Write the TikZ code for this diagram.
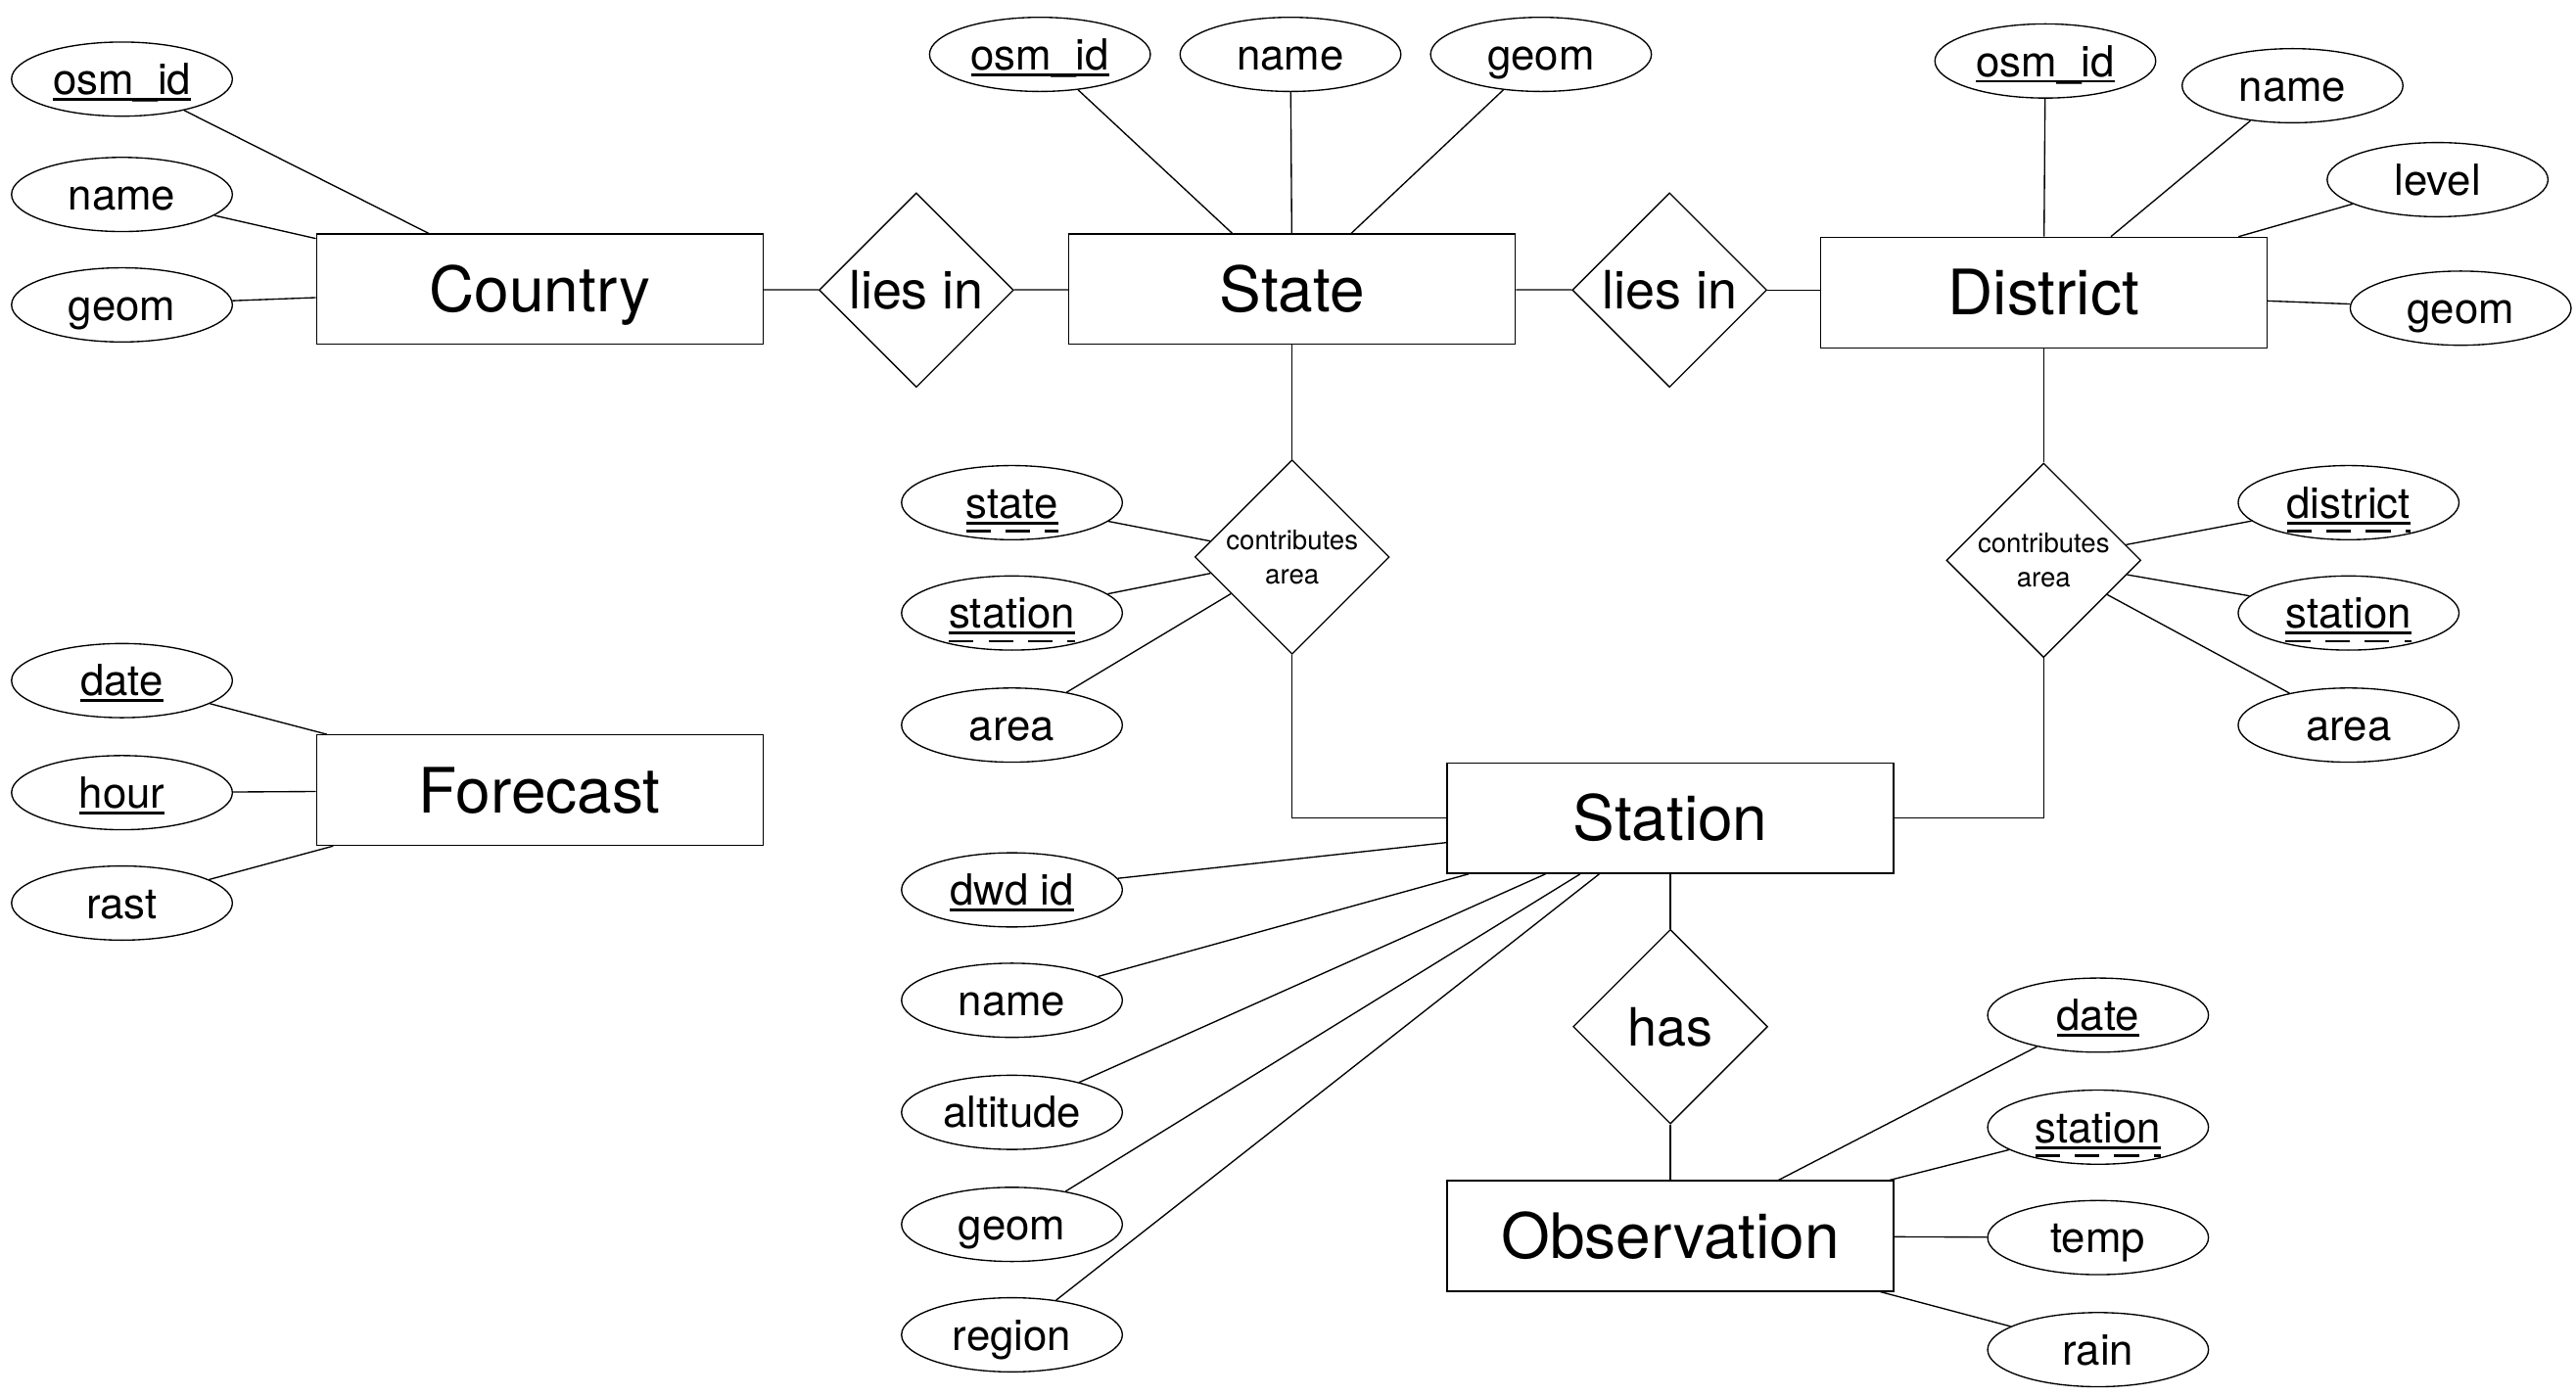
\documentclass[tikz,border=0pt]{standalone}
\usepackage{fontspec}
\setmainfont{TeX Gyre Heros}
\usetikzlibrary{shapes.geometric}
\newdimen\wkw
\newdimen\wkr
\newcommand\pk[1]{\setbox0\hbox{#1}\wkw=\wd0\rlap{\copy0}\smash{\rlap{\rule[-3.8pt]{\wkw}{1.7pt}}}\hspace*{\wkw}}
\newcommand\wkdashes{\hbox{\loop\ifdim\wkr>15pt \vrule width 15pt height 1.7pt depth 0pt\kern9pt\advance\wkr by -24pt\repeat\ifdim\wkr>0pt \vrule width\wkr height 1.7pt depth 0pt\fi}}
\newcommand\wk[1]{\setbox0\hbox{#1}\wkw=\wd0\wkr=\wd0\rlap{\copy0}\smash{\rlap{\rule[-3.8pt]{\wkw}{1.7pt}}}\smash{\rlap{\raisebox{-8.6pt}{\wkdashes}}}\hspace*{\wkw}}
\tikzset{
  entity/.style={draw, rectangle, minimum width=271pt, minimum height=67pt, inner sep=0pt,
    font=\fontsize{38}{44}\selectfont, text height=27.4pt, text depth=0pt},
  rel/.style={draw, diamond, minimum width=118pt, minimum height=118pt, inner sep=0pt,
    font=\fontsize{32}{38}\selectfont, text height=23pt, text depth=0pt},
  carel/.style={draw, diamond, minimum width=118pt, minimum height=118pt, inner sep=0pt,
    font=\fontsize{16.4}{20.8}\selectfont, align=center},
  attr/.style={draw, ellipse, minimum width=134pt, minimum height=45pt, inner sep=0pt,
    font=\fontsize{26}{30}\selectfont, text height=18.7pt, text depth=0pt},
  conn/.style={draw, line width=0.8pt},
}
\begin{document}
\begin{tikzpicture}[x=1pt, y=-1pt, line width=0.8pt]
\fill[white] (0,0) rectangle (1563,847);
\useasboundingbox (0,0) rectangle (1563,847);

% entities
\node[entity] (country) at (327.5,175.5) {Country};
\node[entity] (state) at (784,175.5) {State};
\node[entity] (district) at (1240,177.5) {District};
\node[entity] (forecast) at (327.5,479.5) {Forecast};
\node[entity] (station) at (1013.5,496.5) {Station};
\node[entity] (obs) at (1013.5,750) {Observation};

% relations
\node[rel] (lies1) at (556,176) {lies in};
\node[rel] (lies2) at (1013,176) {lies in};
\node[carel] (ca1) at (784,338) {contributes\\area};
\node[carel] (ca2) at (1240,340) {contributes\\area};
\node[rel] (has) at (1013.5,623) {has};

% attributes: Country
\node[attr] (cid) at (74,48) {\pk{osm\_id}};
\node[attr] (cname) at (74,118) {name};
\node[attr] (cgeom) at (74,185) {geom};
% State
\node[attr] (sid) at (631,33) {\pk{osm\_id}};
\node[attr] (sname) at (783,33) {name};
\node[attr] (sgeom) at (935,33) {geom};
% District
\node[attr] (did) at (1241,37) {\pk{osm\_id}};
\node[attr] (dname) at (1391,52) {name};
\node[attr] (dlevel) at (1479,109) {level};
\node[attr] (dgeom) at (1493,187) {geom};
% contributes area 1
\node[attr] (castate) at (614,305) {\wk{state}};
\node[attr] (castation) at (614,372) {\wk{station}};
\node[attr] (caarea) at (614,440) {area};
% contributes area 2
\node[attr] (cbdistrict) at (1425,305) {\wk{district}};
\node[attr] (cbstation) at (1425,372) {\wk{station}};
\node[attr] (cbarea) at (1425,440) {area};
% Station
\node[attr] (stid) at (614,540) {\pk{dwd id}};
\node[attr] (stname) at (614,607) {name};
\node[attr] (stalt) at (614,675) {altitude};
\node[attr] (stgeom) at (614,743) {geom};
\node[attr] (streg) at (614,810) {region};
% Observation
\node[attr] (odate) at (1273,616) {\pk{date}};
\node[attr] (ostation) at (1273,684) {\wk{station}};
\node[attr] (otemp) at (1273,751) {temp};
\node[attr] (orain) at (1273,819) {rain};
% Forecast
\node[attr] (fdate) at (74,413) {\pk{date}};
\node[attr] (fhour) at (74,481) {\pk{hour}};
\node[attr] (frast) at (74,548) {rast};

% connectors
\path[conn] (cid) -- (country);
\path[conn] (cname) -- (country);
\path[conn] (cgeom) -- (country);
\path[conn] (sid) -- (state);
\path[conn] (sname) -- (state);
\path[conn] (sgeom) -- (state);
\path[conn] (did) -- (district);
\path[conn] (dname) -- (district);
\path[conn] (dlevel) -- (district);
\path[conn] (dgeom) -- (district);
\path[conn] (fdate) -- (forecast);
\path[conn] (fhour) -- (forecast);
\path[conn] (frast) -- (forecast);

\path[conn] (country) -- (lies1);
\path[conn] (lies1) -- (state);
\path[conn] (state) -- (lies2);
\path[conn] (lies2.east) -- (lies2.east -| district.west);

\path[conn] (state) -- (ca1);
\path[conn] (ca1.south) |- (station.west);
\path[conn] (district) -- (ca2);
\path[conn] (ca2.south) |- (station.east);
\path[conn] (castate) -- (ca1);
\path[conn] (castation) -- (ca1);
\path[conn] (caarea) -- (ca1);
\path[conn] (cbdistrict) -- (ca2);
\path[conn] (cbstation) -- (ca2);
\path[conn] (cbarea) -- (ca2);

\path[conn] (stid) -- (station);
\path[conn] (stname) -- (station);
\path[conn] (stalt) -- (station);
\path[conn] (stgeom) -- (station);
\path[conn] (streg) -- (station);

\path[conn] (station) -- (has);
\path[conn] (has) -- (obs);
\path[conn] (odate) -- (obs);
\path[conn] (ostation) -- (obs);
\path[conn] (otemp) -- (obs);
\path[conn] (orain) -- (obs);
\end{tikzpicture}
\end{document}
